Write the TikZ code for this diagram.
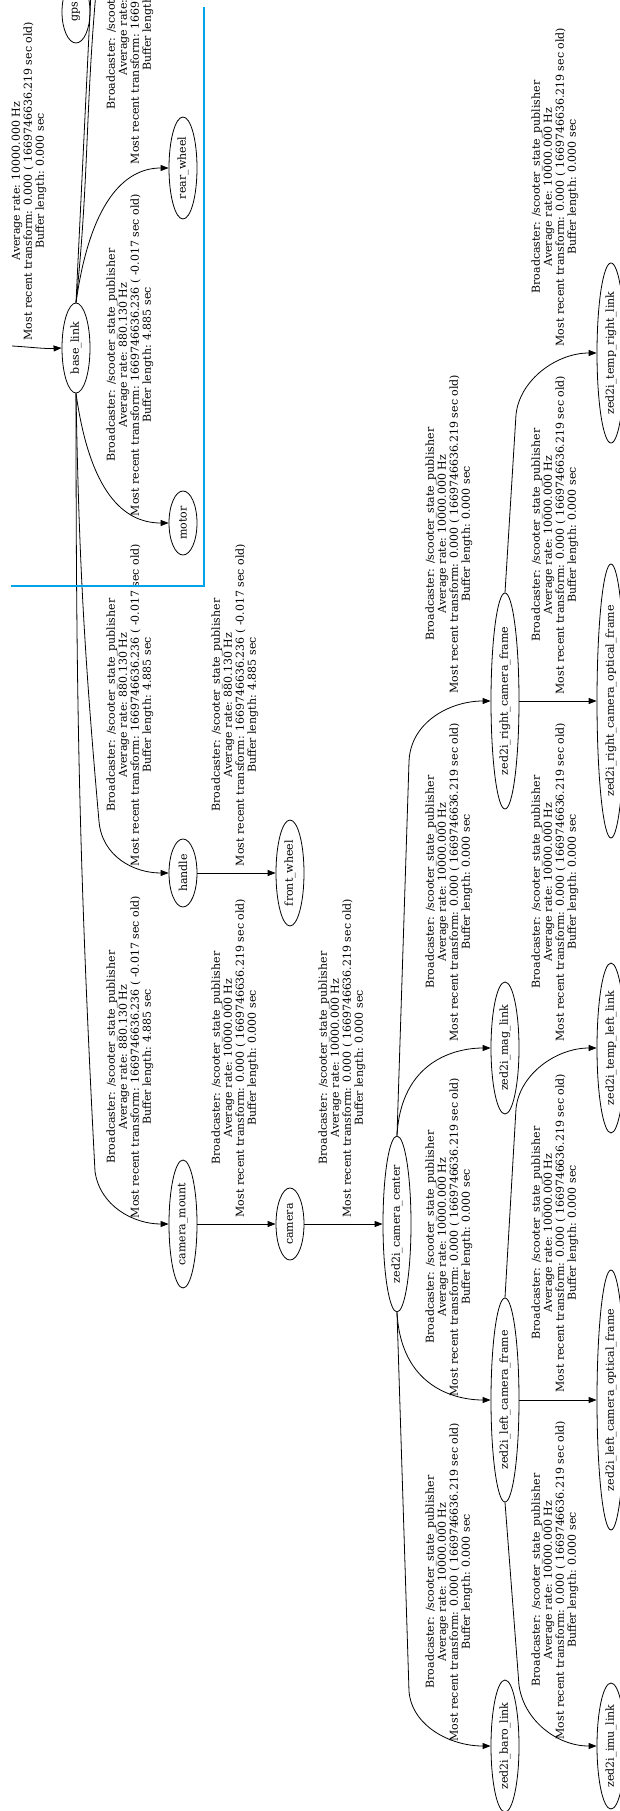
\documentclass[tikz,border=0pt]{standalone}
\usepackage{fontspec}
\newfontfamily\gvserif{DejaVu Serif}
\usetikzlibrary{arrows.meta,shapes.geometric}
\definecolor{paintblue}{RGB}{0,162,232}
\newcommand\gvfont{\gvserif\fontsize{11}{12}\selectfont}
\newcommand\bcast{Broadcaster: /scooter\_state\_publisher}
\newcommand\slowtf{\bcast\\Average rate: 880.130 Hz\\Most recent transform: 1669746636.236 ( -0.017 sec old)\\Buffer length: 4.885 sec}
\newcommand\fasttf{\bcast\\Average rate: 10000.000 Hz\\Most recent transform: 0.000 ( 1669746636.219 sec old)\\Buffer length: 0.000 sec}
% frame node: name, x, y, length of the (upright) ellipse, text
\newcommand\gvnode[5]{\node[nd, minimum height=#4, label={[ndtxt]center:#5}] (#1) at (#2,#3) {};}
\begin{document}
\begin{tikzpicture}[x=1pt,y=1pt,
  nd/.style={ellipse, draw, line width=0.8pt, minimum width=28, inner sep=0pt},
  ndtxt/.style={rotate=90, font=\gvfont, inner sep=0pt},
  lbl/.style={rotate=90, align=center, font=\gvfont, inner sep=0pt},
  tfedge/.style={line width=0.8pt, -{Triangle[length=8pt,width=6pt]}},
  plain/.style={line width=0.8pt},
  frame/.style={draw=paintblue, line width=2.2pt}]
\useasboundingbox (0,0) rectangle (620,-1811);
\fill[white] (0,0) rectangle (620,-1811);
\clip (0,0) rectangle (620,-1811);

% ---- frames ----
\node[nd, minimum height=62] (gps) at (76,-12) {};
\node[ndtxt] (gpstxt) at (gps.center) {gps};
\gvnode{base}{76}{-348}{90}{base\_link}
\gvnode{rear}{183}{-168}{102}{rear\_wheel}
\gvnode{motor}{183}{-523}{64}{motor}
\gvnode{handle}{183}{-873}{68}{handle}
\gvnode{cmount}{183}{-1224}{128}{camera\_mount}
\gvnode{fwheel}{290}{-873}{106}{front\_wheel}
\gvnode{camera}{290}{-1224}{72}{camera}
\gvnode{zcc}{397}{-1224}{176}{zed2i\_camera\_center}
\gvnode{rcf}{505}{-701}{216}{zed2i\_right\_camera\_frame}
\gvnode{mag}{505}{-1048}{132}{zed2i\_mag\_link}
\gvnode{lcf}{505}{-1400}{204}{zed2i\_left\_camera\_frame}
\gvnode{baro}{505}{-1746}{132}{zed2i\_baro\_link}
\gvnode{trl}{611}{-353}{180}{zed2i\_temp\_right\_link}
\gvnode{rof}{611}{-701}{274}{zed2i\_right\_camera\_optical\_frame}
\gvnode{tll}{611}{-1048}{170}{zed2i\_temp\_left\_link}
\gvnode{lof}{611}{-1400}{260}{zed2i\_left\_camera\_optical\_frame}
\gvnode{imu}{611}{-1746}{126}{zed2i\_imu\_link}

% ---- transforms ----
\coordinate (inc) at (12,-346);
\coordinate (upA) at (91,8);
\coordinate (upB) at (96,8);
\draw[tfedge] (inc) .. controls (30,-347) and (45,-349) .. (base.west);
\draw[plain] (base.north) -- (upA);
\draw[plain] (base.north) to[out=84,in=-95] (upB);
\draw[tfedge] (base.north) to[out=82,in=180,out distance=100,in distance=45] (rear.west);
\draw[tfedge] (base.south) to[out=-82,in=180,out distance=100,in distance=45] (motor.west);
\draw[tfedge] (base.south) to[out=-89,in=95] ++(23,-428)
  to[out=-85,in=180,out distance=35,in distance=35] (handle.west);
\draw[tfedge] (base.south) to[out=-90,in=93] ++(19,-778)
  to[out=-82,in=180,out distance=35,in distance=35] (cmount.west);
\draw[tfedge] (handle) -- (fwheel);
\draw[tfedge] (cmount) -- (camera);
\draw[tfedge] (camera) -- (zcc);
\draw[tfedge] (zcc.north) -- ++(12,374)
  to[out=88,in=180,out distance=40,in distance=40] (rcf.west);
\draw[tfedge] (zcc.north) to[out=87,in=180,out distance=75,in distance=35] (mag.west);
\draw[tfedge] (zcc.south) to[out=-87,in=180,out distance=75,in distance=35] (lcf.west);
\draw[tfedge] (zcc.south) -- ++(12,-379)
  to[out=-85,in=180,out distance=35,in distance=40] (baro.west);
\draw[tfedge] (rcf.north) -- ++(11,178)
  to[out=84,in=180,out distance=35,in distance=40] (trl.west);
\draw[tfedge] (rcf) -- (rof);
\draw[tfedge] (lcf.north) -- ++(11,189)
  to[out=84,in=180,out distance=35,in distance=40] (tll.west);
\draw[tfedge] (lcf.south) -- ++(14,-183)
  to[out=-82,in=180,out distance=35,in distance=40] (imu.west);
\draw[tfedge] (lcf) -- (lof);

% ---- transform labels ----
\node[lbl] (linc) at (29,-181) {Average rate: 10000.000 Hz\\Most recent transform: 0.000 ( 1669746636.219 sec old)\\Buffer length: 0.000 sec};
\node[lbl] (lrear) at (130,-3) {\slowtf};
\node[lbl] (lmotor) at (130,-355) {\slowtf};
\node[lbl] (lhandle) at (130,-705) {\slowtf};
\node[lbl] (lcmount) at (130,-1057) {\slowtf};
\node[lbl] (lfwheel) at (235,-705) {\slowtf};
\node[lbl] (lcamera) at (235,-1058) {\fasttf};
\node[lbl] (lzcc) at (342,-1058) {\fasttf};
\node[lbl] (lrcf) at (449,-534) {\fasttf};
\node[lbl] (lmag) at (449,-882) {\fasttf};
\node[lbl] (llcf) at (449,-1237) {\fasttf};
\node[lbl] (lbaro) at (449,-1582) {\fasttf};
\node[lbl] (ltrl) at (555,-187) {\fasttf};
\node[lbl] (lrof) at (555,-535) {\fasttf};
\node[lbl] (ltll) at (555,-882) {\fasttf};
\node[lbl] (llof) at (555,-1233) {\fasttf};
\node[lbl] (limu) at (555,-1580) {\fasttf};

% ---- selection frame ----
\draw[frame] (204,-7) -- (204,-586) -- (11,-586);
\end{tikzpicture}
\end{document}
